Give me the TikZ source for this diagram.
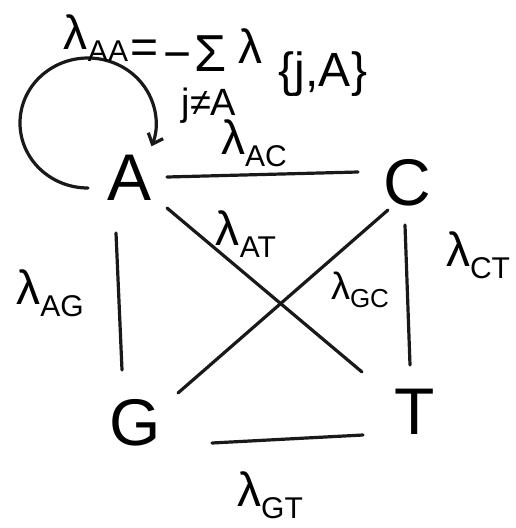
\documentclass[tikz,border=0pt]{standalone}
\usepackage{fontspec}
\setmainfont{Liberation Sans}
\usetikzlibrary{arrows.meta,calc}
\newcommand{\lsub}[1]{\raisebox{-12pt}{\fontsize{30}{30}\selectfont #1}}
\begin{document}
\begin{tikzpicture}[x=1pt,y=-1pt,
  edge/.style={line width=3.2pt, line cap=round, black!90},
  letter/.style={font=\fontsize{66}{66}\selectfont, inner sep=0pt},
  rate/.style={font=\fontsize{48}{48}\selectfont, inner sep=0pt},
  big/.style={font=\fontsize{48}{48}\selectfont, inner sep=0pt},
  mid/.style={font=\fontsize{38}{38}\selectfont, inner sep=0pt}]
\useasboundingbox (0,0) rectangle (516,528);
\fill[white] (0,0) rectangle (516,528);
% states
\node[letter] (A) at (130,178) {A};
\node[letter] (C) at (407,183) {C};
\node[letter] (G) at (135,423) {G};
\node[letter] (T) at (415,412) {T};
% connectors
\draw[edge] ($(A)+(37,-1)$) -- ($(C)+(-49,-11)$);
\draw[edge] ($(A)+(37,30)$) -- ($(T)+(-53,-40)$);
\draw[edge] ($(G)+(43,-30)$) -- ($(C)+(-19,27)$);
\draw[edge] ($(A)+(-14,55)$) -- ($(G)+(-13,-53)$);
\draw[edge] ($(C)+(-2,42)$) -- ($(T)+(-5,-47)$);
\draw[edge] ($(G)+(77,20)$) -- ($(T)+(-52,23)$);
% self loop
\draw[edge, -{Straight Barb[length=9pt,width=16pt]}] ($(A)+(-42,10)$) arc[start angle=90, end angle=381, x radius=68, y radius=65];
% rate labels
\node[rate] (lAC) at (254,143) {λ\lsub{AC}};
\node[rate] (lAT) at (246,234) {λ\lsub{AT}};
\node[font=\fontsize{38}{38}\selectfont, inner sep=0pt] (lGC) at (360,290) {λ\raisebox{-8pt}{\fontsize{26}{26}\selectfont GC}};
\node[rate] (lAG) at (50,293) {λ\lsub{AG}};
\node[rate] (lCT) at (478,255) {λ\lsub{CT}};
\node[rate] (lGT) at (270,495) {λ\lsub{GT}};
% top formula
\node[rate] (lAA) at (96,38) {λ\lsub{AA}};
\node[big] (eq) at (145,52) {=};
\node[big] (minus) at (178,62) {−};
\node[font=\fontsize{52}{52}\selectfont, inner sep=0pt] (sigma) at (211,54) {Σ};
\node[mid] (jA) at (209,106) {j≠A};
\node[big] (lam) at (250,46) {λ};
\node[big] (braces) at (323,74) {\{j,A\}};
\end{tikzpicture}
\end{document}
